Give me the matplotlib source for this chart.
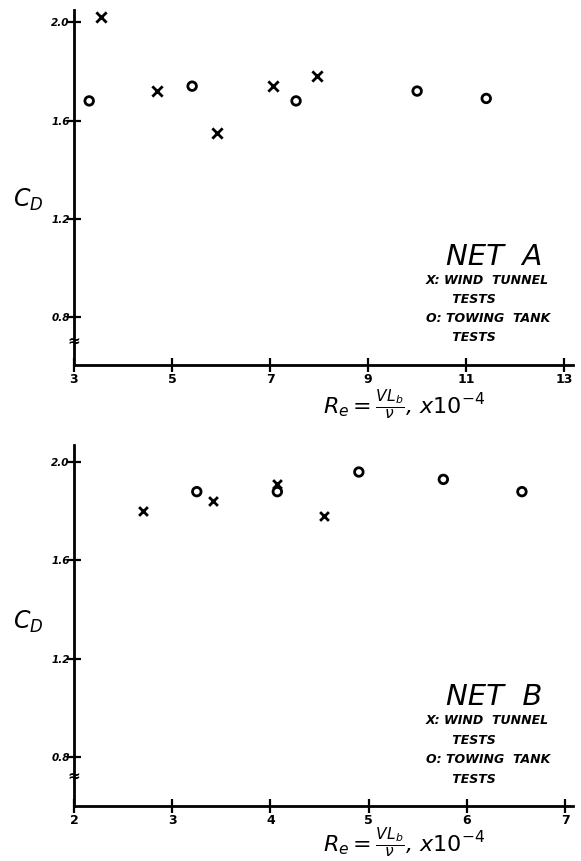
import matplotlib
matplotlib.use("Agg")
import matplotlib.pyplot as plt

# ---- data: Net A ----
a_wind_re = [3.55, 4.69, 5.92, 7.06, 7.96]
a_wind_cd = [2.02, 1.72, 1.55, 1.74, 1.78]
a_tow_re = [3.31, 5.41, 7.53, 10.0, 11.41]
a_tow_cd = [1.68, 1.74, 1.68, 1.72, 1.69]
a_xticks = [3, 5, 7, 9, 11, 13]

# ---- data: Net B ----
b_wind_re = [2.70, 3.42, 4.07, 4.55]
b_wind_cd = [1.80, 1.84, 1.91, 1.78]
b_tow_re = [3.25, 4.07, 4.90, 5.76, 6.56]
b_tow_cd = [1.88, 1.88, 1.96, 1.93, 1.88]
b_xticks = [2, 3, 4, 5, 6, 7]

yticks = [0.8, 1.2, 1.6, 2.0]
ytick_labels = ["0.8", "1.2", "1.6", "2.0"]

W, H = 581, 861
fig = plt.figure(figsize=(W / 100, H / 100), dpi=100)
fig.patch.set_facecolor("white")


def px_axes(left, top, right, bottom):
    return fig.add_axes([left / W, 1 - bottom / H, (right - left) / W, (bottom - top) / H])


def style(ax, xlim, ylim, xticks, name, label_y, cd_xy, brk_y):
    ax.set_xlim(*xlim)
    ax.set_ylim(*ylim)
    for s in ("top", "right"):
        ax.spines[s].set_visible(False)
    for s in ("left", "bottom"):
        ax.spines[s].set_linewidth(2)
    ax.set_xticks(xticks)
    ax.set_xticklabels([str(t) for t in xticks], fontsize=9, fontweight="bold")
    ax.set_yticks(yticks)
    ax.set_yticklabels(ytick_labels, fontsize=7.5, fontstyle="italic", fontweight="bold")
    ax.tick_params(direction="inout", length=10, width=1.6, pad=1)
    ax.tick_params(axis="y", pad=-2)
    ax.text(xticks[0], brk_y, "≈", ha="center", va="center", fontsize=11,
            fontweight="bold")
    # text block
    ax.text(0.745, label_y, name, transform=ax.transAxes, fontsize=21,
            fontstyle="italic", ha="left", va="center")
    lines = ["X: WIND  TUNNEL", "      TESTS", "O: TOWING  TANK", "      TESTS"]
    for i, t in enumerate(lines):
        ax.text(0.705, label_y - 0.066 - i * 0.054, t, transform=ax.transAxes,
                fontsize=9, fontstyle="italic", fontweight="bold", ha="left",
                va="center", clip_on=False)
    ax.text(cd_xy[0], cd_xy[1], r"$C_D$", transform=fig.transFigure,
            fontsize=17, ha="center", va="center")


# top axes: Net A
ax1 = px_axes(74, 10, 573, 365)
ax1.scatter(a_wind_re, a_wind_cd, marker="x", s=55, c="black", linewidths=2, zorder=3)
ax1.scatter(a_tow_re, a_tow_cd, marker="o", s=38, facecolors="none",
            edgecolors="black", linewidths=2, zorder=3)
style(ax1, (3, 13.18), (0.605, 2.05), a_xticks, "NET  A", 0.305,
      (28 / W, 1 - 200 / H), 0.70)
fig.text(323 / W, 1 - 405 / H, r"$R_e = \frac{VL_b}{\nu}$, x$10^{-4}$",
         fontsize=16, fontstyle="italic", ha="left", va="center")

# bottom axes: Net B
ax2 = px_axes(74, 445, 573, 806)
ax2.scatter(b_wind_re, b_wind_cd, marker="x", s=40, c="black", linewidths=2, zorder=3)
ax2.scatter(b_tow_re, b_tow_cd, marker="o", s=38, facecolors="none",
            edgecolors="black", linewidths=2, zorder=3)
style(ax2, (2, 7.08), (0.60, 2.07), b_xticks, "NET  B", 0.302,
      (28 / W, 1 - 622 / H), 0.72)
fig.text(323 / W, 1 - 843 / H, r"$R_e = \frac{VL_b}{\nu}$, x$10^{-4}$",
         fontsize=16, fontstyle="italic", ha="left", va="center")

fig.savefig("out.png", dpi=100)
